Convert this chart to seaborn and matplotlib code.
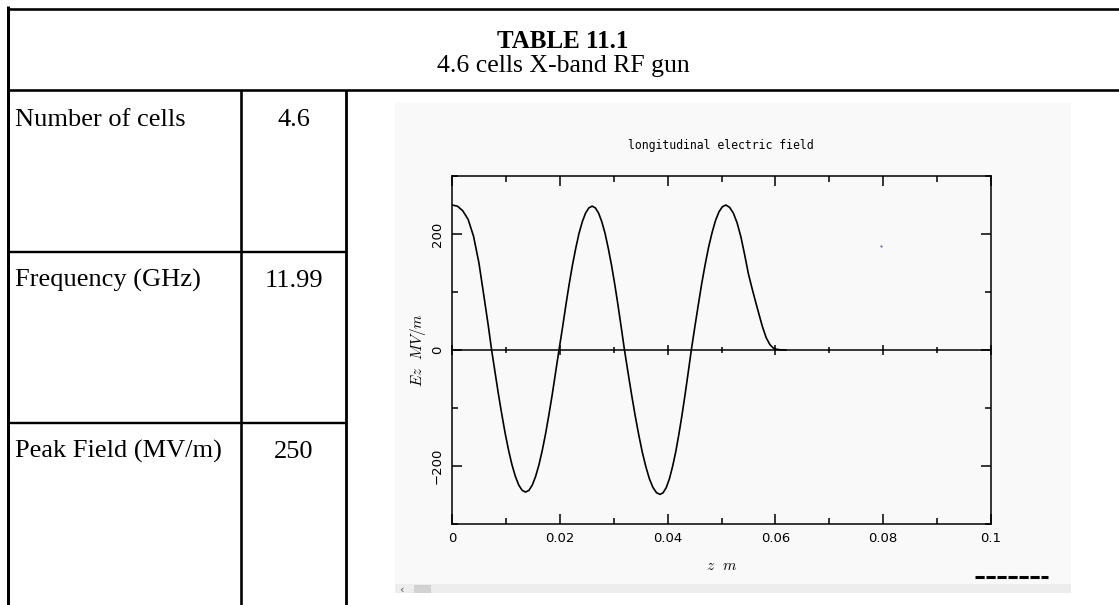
import matplotlib
matplotlib.use("Agg")
import matplotlib.pyplot as plt
from matplotlib.lines import Line2D
from matplotlib.patches import Rectangle
from matplotlib.ticker import MultipleLocator
import seaborn as sns
import pandas as pd

# ---------------- table content ----------------
table_title = "TABLE 11.1"
table_subtitle = "4.6 cells X-band RF gun"
param_names = ["Number of cells", "Frequency (GHz)", "Peak Field (MV/m)"]
param_values = ["4.6", "11.99", "250"]

# ---------------- on-axis longitudinal field ----------------
z_m = [
    0.0, 0.001, 0.002, 0.003, 0.004, 0.005, 0.006, 0.0067, 0.00735,
    0.00798, 0.00861, 0.00924, 0.00987, 0.0105, 0.01113, 0.01176, 0.01239, 0.01302, 0.01365,
    0.01427, 0.01489, 0.01551, 0.01613, 0.01675, 0.01737, 0.01799, 0.01861, 0.01923, 0.01985,
    0.02051, 0.02112, 0.02173, 0.02234, 0.02295, 0.02356, 0.02417, 0.02478, 0.02539, 0.026,
    0.0266, 0.0272, 0.0278, 0.0284, 0.029, 0.0296, 0.0302, 0.0308, 0.0314, 0.032,
    0.03266, 0.03332, 0.03398, 0.03464, 0.0353, 0.03596, 0.03662, 0.03728, 0.03794, 0.0386,
    0.03918, 0.03976, 0.04034, 0.04092, 0.0415, 0.04208, 0.04266, 0.04324, 0.04382, 0.0444,
    0.04504, 0.04568, 0.04632, 0.04696, 0.0476, 0.04824, 0.04888, 0.04952, 0.05016, 0.0508,
    0.0515, 0.0522, 0.0529, 0.0536, 0.0543, 0.055, 0.0557, 0.0563, 0.057, 0.0576,
    0.0583, 0.059, 0.0596, 0.0602, 0.061, 0.062,
]
ez_mv_per_m = [
    250, 248, 240, 225, 196, 150, 88, 44, 0,
    -38, -76, -111, -144, -173, -198, -218, -233, -242, -245,
    -242, -233, -218, -198, -173, -144, -111, -76, -38, 0,
    39, 77, 113, 146, 175, 201, 221, 236, 245, 248,
    245, 236, 221, 201, 175, 146, 113, 77, 39, 0,
    -39, -77, -113, -146, -176, -201, -222, -237, -246, -249,
    -246, -237, -222, -201, -176, -146, -113, -77, -39, 0,
    39, 77, 114, 147, 177, 202, 223, 238, 247, 250,
    246, 236, 219, 195, 164, 131, 105, 84, 60, 40,
    21, 9, 3.5, 1.2, 0.3, 0,
]
stray_z = [0.0796]
stray_ez = [180]

plot_title = "longitudinal electric field"
x_label = r"$Ez\ \ MV/m$"
z_label = r"$z\ \ m$"
x_ticks = [0, 0.02, 0.04, 0.06, 0.08, 0.1]
x_tick_labels = ["0", "0.02", "0.04", "0.06", "0.08", "0.1"]
y_ticks = [-200, 0, 200]
y_tick_labels = ["\u2212200", "0", "200"]

# ---------------- figure set-up ----------------
sns.set_theme(style="white")
plt.rcParams["font.family"] = ["DejaVu Sans"]
plt.rcParams["mathtext.fontset"] = "cm"
plt.rcParams["text.color"] = "black"
plt.rcParams["xtick.color"] = "black"
plt.rcParams["ytick.color"] = "black"
plt.rcParams["xtick.labelcolor"] = "black"
plt.rcParams["ytick.labelcolor"] = "black"

W, H = 1119, 605
fig = plt.figure(figsize=(W / 100, H / 100), dpi=100)
fig.patch.set_facecolor("white")


def fx(px):
    return px / W


def fy(py):
    return 1 - py / H


def rule(x0, y0, x1, y1, px):
    fig.add_artist(Line2D([fx(x0), fx(x1)], [fy(y0), fy(y1)],
                          color="black", lw=px * 0.72, solid_capstyle="butt"))


# table frame
rule(8, 8.5, 1119, 8.5, 2.6)
rule(8, 90, 1119, 90, 2.6)
rule(8, 6, 8, 605, 3.0)
rule(241, 90, 241, 605, 2.6)
rule(346, 90, 346, 605, 2.8)
rule(8, 252, 346, 252, 2.4)
rule(8, 423, 346, 423, 2.4)

serif = ["Liberation Serif", "DejaVu Serif"]
fig.text(fx(563), fy(48), table_title, ha="center", va="baseline",
         family=serif, fontsize=18, fontweight="bold", color="black")
fig.text(fx(563), fy(72), table_subtitle, ha="center", va="baseline",
         family=serif, fontsize=18.5, color="black")

row_baselines = [126, 287, 458]
for name, val, yb in zip(param_names, param_values, row_baselines):
    fig.text(fx(15), fy(yb), name, ha="left", va="baseline", family=serif,
             fontsize=19, color="black")
    fig.text(fx(293.5), fy(yb), val, ha="center", va="baseline", family=serif,
             fontsize=19, color="black")

# plot panel background and scroll strip
panel = "#f9f9f9"
fig.add_artist(Rectangle((fx(395), fy(584)), fx(1071) - fx(395), fy(103) - fy(584),
                         facecolor=panel, edgecolor="none", zorder=0))
fig.add_artist(Rectangle((fx(395), fy(593)), fx(1071) - fx(395), fy(584) - fy(593),
                         facecolor="#ededed", edgecolor="none", zorder=0))
fig.add_artist(Rectangle((fx(414), fy(593)), fx(431) - fx(414), fy(585) - fy(593),
                         facecolor="#d2d2d2", edgecolor="none", zorder=1))
fig.text(fx(401), fy(590), "\u2039", ha="center", va="center", fontsize=8, color="#555555")
fig.add_artist(Line2D([fx(975), fx(1048)], [fy(577), fy(577)], color="black",
                      lw=2.2, linestyle=(0, (3, 0.6))))

# ---------------- field plot ----------------
ax = fig.add_axes([fx(452), fy(524), fx(991) - fx(452), (524 - 176) / H])
ax.set_facecolor(panel)

df = pd.DataFrame({"z": z_m, "Ez": ez_mv_per_m})
sns.lineplot(data=df, x="z", y="Ez", ax=ax, color="black", linewidth=1.2,
             estimator=None, sort=False)
ax.scatter(stray_z, stray_ez, s=3, color="#7a7ac8", linewidths=0, zorder=3)

ax.set_xlim(0, 0.1)
ax.set_ylim(-300, 300)
ax.set_xticks(x_ticks)
ax.set_xticklabels(x_tick_labels)
ax.set_yticks(y_ticks)
ax.set_yticklabels(y_tick_labels, rotation=90, va="center")
ax.xaxis.set_minor_locator(MultipleLocator(0.01))
ax.yaxis.set_minor_locator(MultipleLocator(100))
ax.tick_params(which="both", direction="in", top=True, right=True,
               bottom=True, left=True, colors="black", width=1.1)
ax.tick_params(which="major", length=7)
ax.tick_params(which="minor", length=4)
ax.tick_params(axis="x", which="major", labelsize=9.5, pad=6)
ax.tick_params(axis="y", which="major", labelsize=9.5, pad=6)
for s in ax.spines.values():
    s.set_visible(True)
    s.set_color("black")
    s.set_linewidth(1.1)
ax.set_xlabel("")
ax.set_ylabel("")

# axis line through Ez = 0 with its own ticks
zero_axis = ax.secondary_xaxis(0.5)
zero_axis.set_xticks(x_ticks)
zero_axis.xaxis.set_minor_locator(MultipleLocator(0.01))
zero_axis.tick_params(which="both", direction="inout", labeltop=False,
                      labelbottom=False, top=True, colors="black", width=1.1)
zero_axis.tick_params(which="major", length=7)
zero_axis.tick_params(which="minor", length=5)
zero_axis.spines["top"].set_linewidth(1.1)
zero_axis.spines["top"].set_color("black")

fig.text(fx(721), fy(145), plot_title, ha="center", va="center",
         family=["DejaVu Sans Mono"], fontsize=8.3, color="black")
fig.text(fx(418), fy(350), x_label, ha="center", va="center", rotation=90,
         fontsize=11, color="black")
fig.text(fx(722), fy(565), z_label, ha="center", va="center", fontsize=11,
         color="black")

fig.savefig("out.png", dpi=100, facecolor="white")
